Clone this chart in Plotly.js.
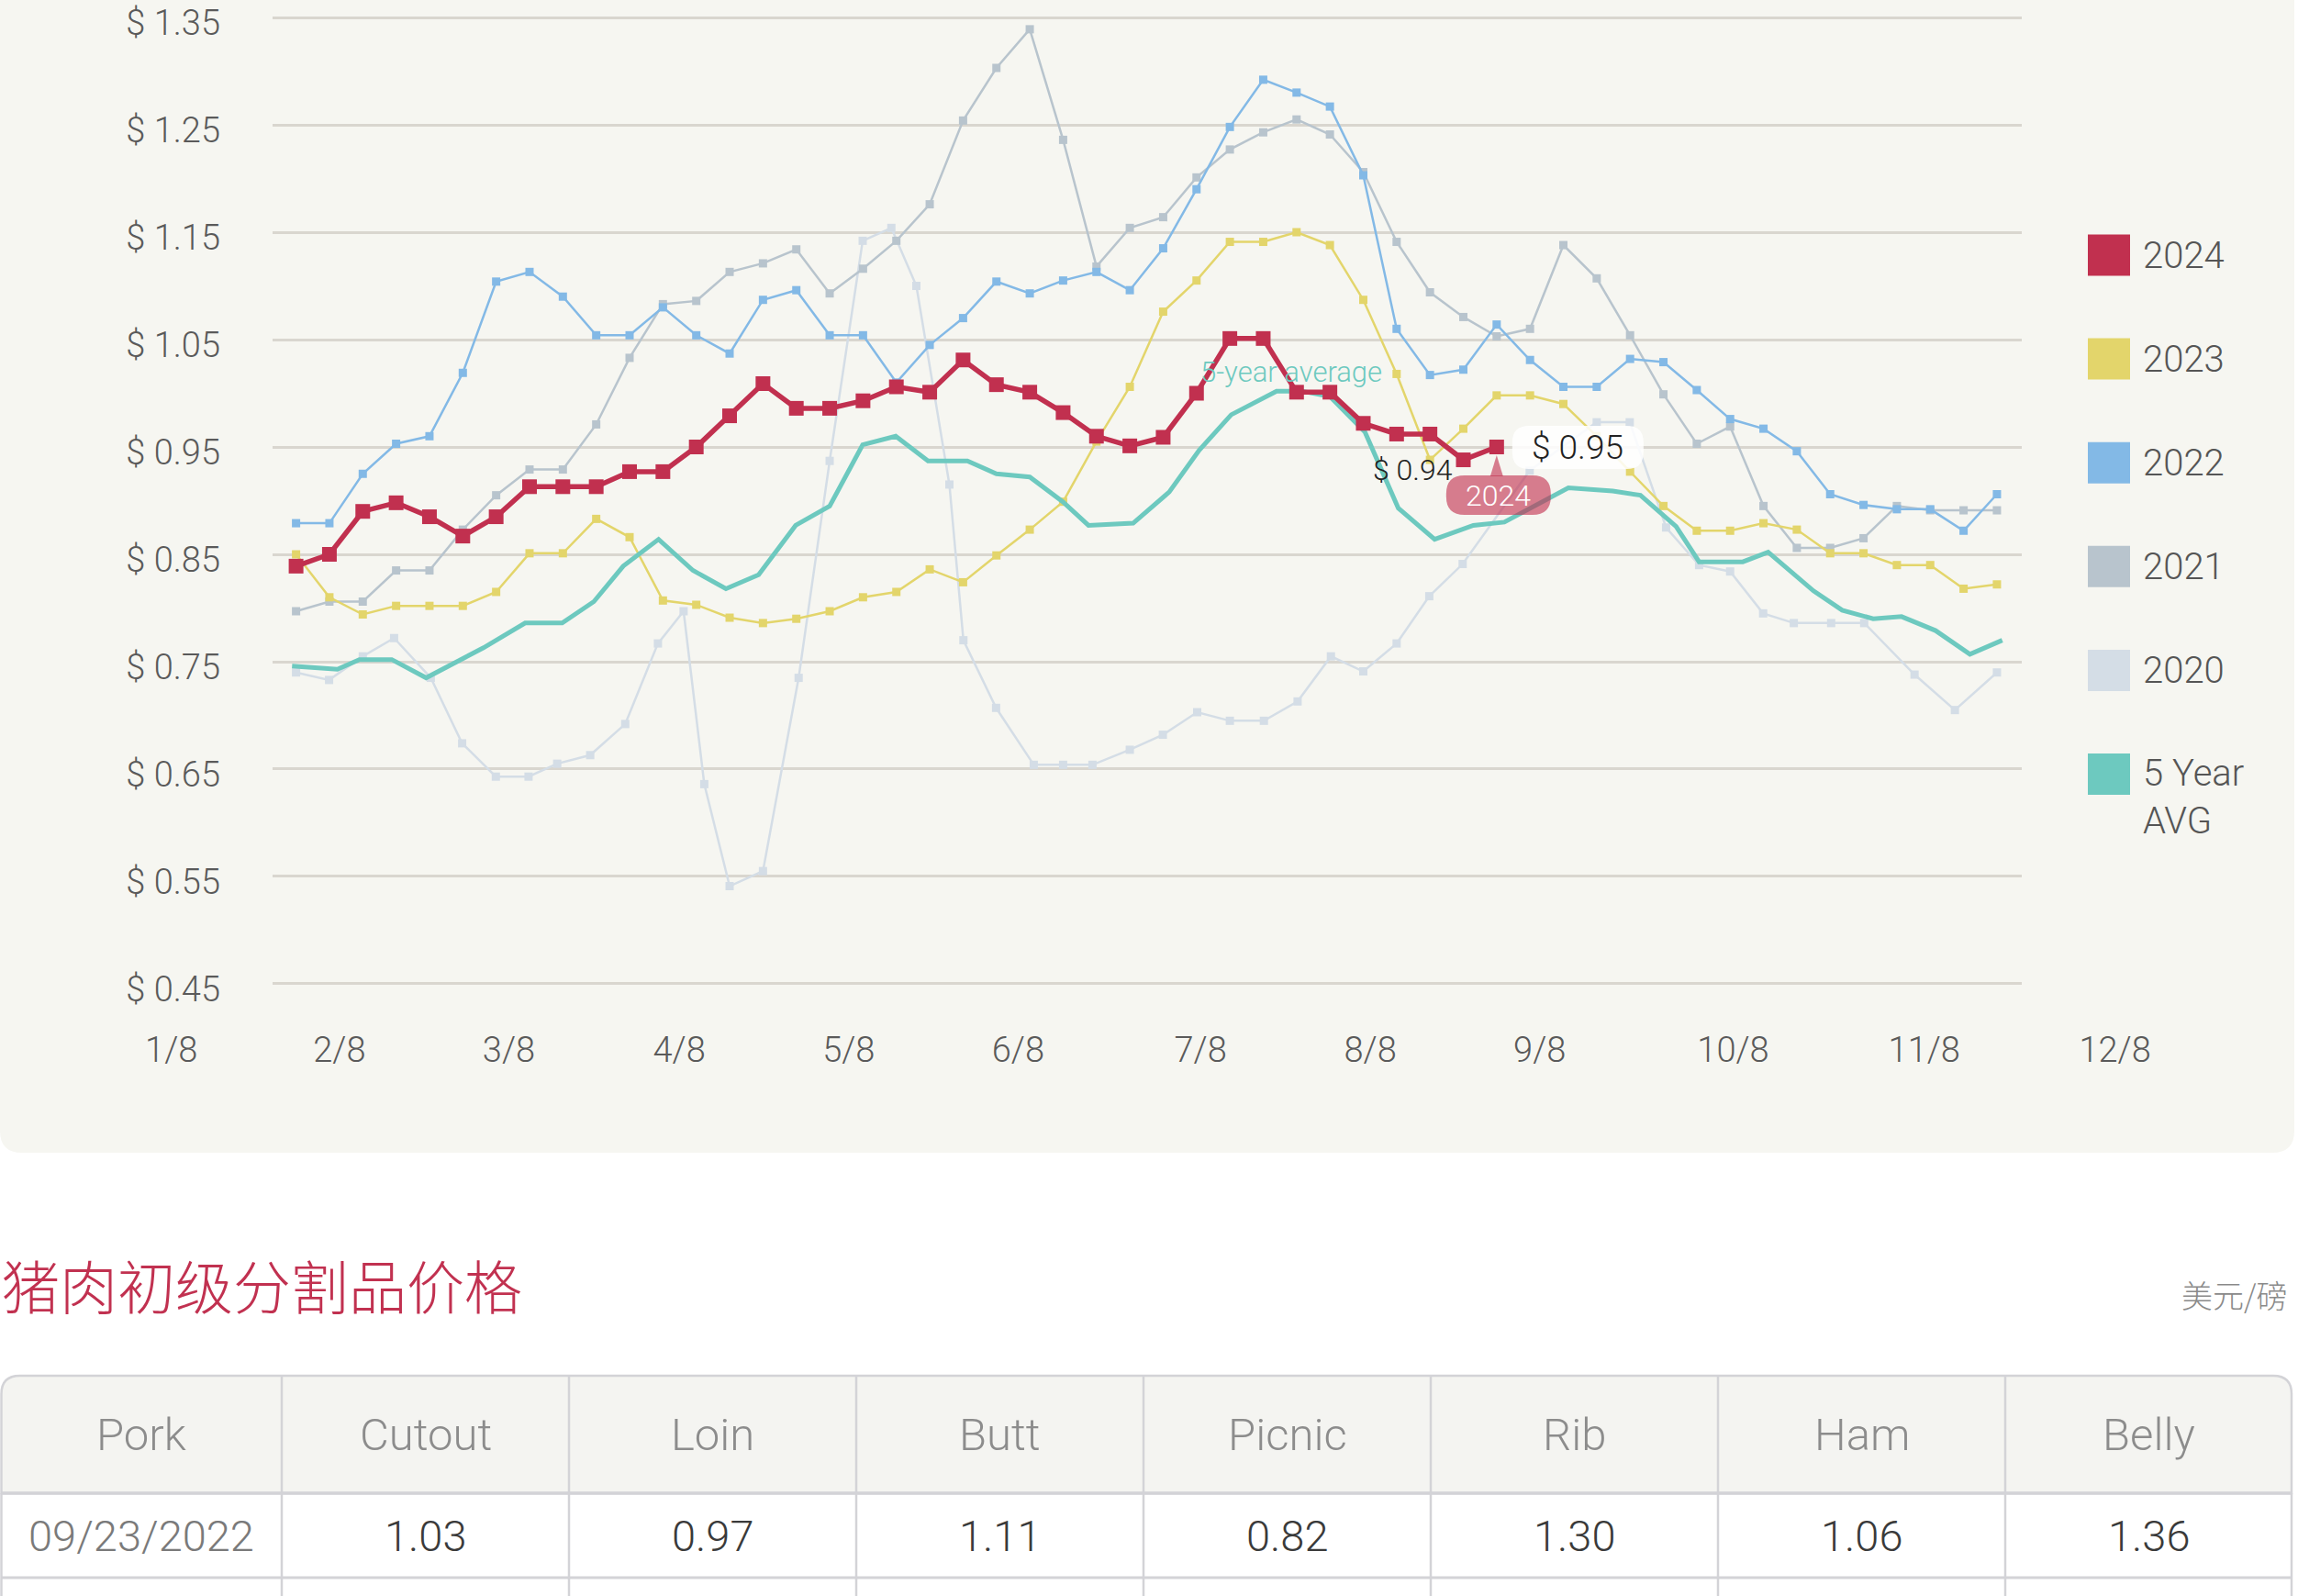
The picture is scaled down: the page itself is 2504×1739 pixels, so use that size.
<!DOCTYPE html>
<html>
<head>
<meta charset="utf-8">
<script src="https://cdn.plot.ly/plotly-3.0.1.min.js"></script>
<style>
html,body{margin:0;padding:0;background:#ffffff;}
#chart{width:2504px;height:1739px;}
</style>
</head>
<body>
<div id="chart"></div>
<script>
// ---------------- DATA ----------------
const weeks = [1,2,3,4,5,6,7,8,9,10,11,12,13,14,15,16,17,18,19,20,21,22,23,24,25,26,
               27,28,29,30,31,32,33,34,35,36,37,38,39,40,41,42,43,44,45,46,47,48,49,50,51,52];

const s2024 = [0.839,0.850,0.890,0.898,0.885,0.867,0.885,0.913,0.913,0.913,0.927,0.927,0.950,0.979,
               1.009,0.986,0.986,0.993,1.006,1.001,1.031,1.008,1.001,0.982,0.960,0.951,0.959,1.000,
               1.051,1.051,1.001,1.001,0.972,0.962,0.962,0.938,0.950];

const s2023 = [0.850,0.810,0.794,0.802,0.802,0.802,0.815,0.851,0.851,0.883,0.866,0.807,0.803,0.791,
               0.786,0.790,0.797,0.810,0.815,0.836,0.824,0.849,0.873,0.899,0.955,1.006,1.076,1.105,
               1.141,1.141,1.150,1.138,1.087,1.018,0.938,0.967,0.998,0.998,0.990,0.960,0.927,0.895,
               0.872,0.872,0.879,0.873,0.851,0.851,0.840,0.840,0.818,0.822];

const s2022 = [0.879,0.879,0.925,0.953,0.960,1.019,1.104,1.113,1.090,1.054,1.054,1.080,1.054,1.037,
               1.087,1.096,1.054,1.054,1.010,1.045,1.070,1.104,1.093,1.105,1.113,1.096,1.135,1.190,
               1.248,1.292,1.280,1.267,1.203,1.060,1.017,1.022,1.064,1.031,1.006,1.006,1.032,1.029,
               1.003,0.976,0.967,0.946,0.906,0.896,0.892,0.892,0.872,0.906];

const s2021 = [0.797,0.806,0.806,0.835,0.835,0.873,0.905,0.929,0.929,0.971,1.033,1.083,1.086,1.113,
               1.121,1.134,1.093,1.116,1.142,1.176,1.254,1.303,1.339,1.236,1.118,1.154,1.164,1.201,
               1.227,1.243,1.255,1.241,1.206,1.141,1.094,1.071,1.053,1.060,1.138,1.107,1.054,0.999,
               0.953,0.969,0.895,0.856,0.856,0.865,0.895,0.891,0.891,0.891];

const x2020 = [1.0,1.99,3.0,3.94,5.04,5.98,6.99,7.97,8.83,9.82,10.87,11.85,12.62,13.24,14.0,15.0,16.07,
               17.0,17.99,18.85,19.6,20.59,21.01,21.99,23.12,24.0,24.88,26.0,26.99,28.02,29.0,30.02,
               31.03,32.03,33.0,34.0,34.98,35.98,37.99,40.0,40.99,42.08,43.07,44.0,44.99,45.91,47.03,
               48.02,49.53,50.74,52.0];
const s2020 = [0.740,0.733,0.755,0.772,0.735,0.674,0.643,0.643,0.655,0.663,0.692,0.767,0.797,0.636,
               0.541,0.555,0.735,0.937,1.142,1.154,1.100,0.915,0.770,0.707,0.654,0.654,0.654,0.668,
               0.682,0.703,0.695,0.695,0.713,0.755,0.741,0.767,0.811,0.841,0.928,0.973,0.973,0.875,
               0.840,0.834,0.795,0.786,0.786,0.786,0.738,0.705,0.740];

const xAvg = [0.88,2.24,2.9,3.87,4.9,6.62,7.87,8.98,9.93,10.81,11.87,12.9,13.89,14.87,15.98,17.0,
              17.99,18.98,19.95,21.13,22.0,23.0,23.99,24.76,26.1,27.18,28.08,29.04,30.4,31.15,32.0,
              33.05,34.05,35.14,36.3,37.23,39.15,40.48,41.31,42.38,43.07,44.38,45.14,46.5,47.36,
              48.29,49.14,50.16,51.19,52.16];
const sAvg = [0.746,0.743,0.752,0.752,0.735,0.763,0.786,0.786,0.806,0.839,0.864,0.835,0.818,0.831,
              0.877,0.895,0.952,0.960,0.937,0.937,0.925,0.922,0.899,0.877,0.879,0.908,0.947,0.980,
              1.002,1.002,0.997,0.964,0.893,0.864,0.877,0.880,0.912,0.909,0.905,0.876,0.843,0.843,
              0.852,0.816,0.798,0.790,0.792,0.779,0.757,0.770];

const seriesNames = ['2024', '2023', '2022', '2021', '2020', '5 Year AVG'];
const seriesColors = ['#c1304f', '#e3d56b', '#83b9e6', '#b8c4cd', '#d4dde6', '#6dc9bf'];

const yTickVals = [0.45, 0.55, 0.65, 0.75, 0.85, 0.95, 1.05, 1.15, 1.25, 1.35];
const yTickText = ['$ 0.45', '$ 0.55', '$ 0.65', '$ 0.75', '$ 0.85', '$ 0.95', '$ 1.05', '$ 1.15', '$ 1.25', '$ 1.35'];
const xTickVals = [-2.74, 2.30, 7.38, 12.49, 17.57, 22.65, 28.12, 33.21, 38.29, 44.09, 49.82, 55.54];
const xTickText = ['1/8', '2/8', '3/8', '4/8', '5/8', '6/8', '7/8', '8/8', '9/8', '10/8', '11/8', '12/8'];

const avgLabel = '5-year average';
const tableTitle = '猪肉初级分割品价格';
const unitLabel = '美元/磅';
const tableHeader = ['Pork', 'Cutout', 'Loin', 'Butt', 'Picnic', 'Rib', 'Ham', 'Belly'];
const tableDates = ['09/23/2022'];
const tableCutout = ['1.03'];
const tableLoin = ['0.97'];
const tableButt = ['1.11'];
const tablePicnic = ['0.82'];
const tableRib = ['1.30'];
const tableHam = ['1.06'];
const tableBelly = ['1.36'];

// ---------------- LAYOUT GEOMETRY ----------------
const W = 2504, H = 1739;
const FONT = 'Roboto, "Liberation Sans", sans-serif';
const CJK = '"Noto Sans CJK SC", sans-serif';
const PX0 = 322.6, PXW = 36.34;           // pixel x of week 1, pixels per week
function wAt(px) { return 1 + (px - PX0) / PXW; }
const YMIN = 0.45, YMAX = 1.35, YPAD = 0.0035;
const Y_TOP = 19, Y_BOT = 1072;
const PPV = (Y_BOT - Y_TOP) / (YMAX - YMIN);
const yTopPx = Y_TOP - YPAD * PPV, yBotPx = Y_BOT + YPAD * PPV;
const yDomain = [1 - yBotPx / H, 1 - yTopPx / H];
function fx(x) { return (x / W).toFixed(5); }
function fy(y) { return (1 - y / H).toFixed(5); }
function P(x, y) { return fx(x) + ',' + fy(y); }
function rr(x0, y0, x1, y1, r) {
  return 'M' + (x0 + r) + ',' + y0 + ' L' + (x1 - r) + ',' + y0 + ' Q' + x1 + ',' + y0 + ' ' + x1 + ',' + (y0 + r) +
         ' L' + x1 + ',' + (y1 - r) + ' Q' + x1 + ',' + y1 + ' ' + (x1 - r) + ',' + y1 +
         ' L' + (x0 + r) + ',' + y1 + ' Q' + x0 + ',' + y1 + ' ' + x0 + ',' + (y1 - r) +
         ' L' + x0 + ',' + (y0 + r) + ' Q' + x0 + ',' + y0 + ' ' + (x0 + r) + ',' + y0 + ' Z';
}

// ---------------- TRACES ----------------
function lineTrace(name, x, y, color, lw, ms) {
  const t = {type: 'scatter', mode: ms ? 'lines+markers' : 'lines', name: name, x: x, y: y,
             line: {color: color, width: lw}, hoverinfo: 'skip', showlegend: false};
  if (ms) t.marker = {symbol: 'square', size: ms, color: color, line: {width: 0}};
  return t;
}
const traces = [
  lineTrace(seriesNames[4], x2020, s2020, seriesColors[4], 2.5, 9),
  lineTrace(seriesNames[3], weeks, s2021, seriesColors[3], 2.5, 9),
  lineTrace(seriesNames[2], weeks, s2022, seriesColors[2], 2.5, 9),
  lineTrace(seriesNames[1], weeks, s2023, seriesColors[1], 2.5, 9),
  lineTrace(seriesNames[5], xAvg, sAvg, seriesColors[5], 5, 0),
  lineTrace(seriesNames[0], weeks.slice(0, s2024.length), s2024, seriesColors[0], 5.5, 16),
  {type: 'scatter', x: [], y: [], xaxis: 'x2', yaxis: 'y2', hoverinfo: 'skip', showlegend: false}
];

// ---------------- SHAPES & ANNOTATIONS ----------------
const panelPath = 'M' + P(0, -20) + ' L' + P(2500, -20) + ' L' + P(2500, 1232) + ' Q' + P(2500, 1256) + ' ' + P(2476, 1256) +
                  ' L' + P(24, 1256) + ' Q' + P(0, 1256) + ' ' + P(0, 1232) + ' Z';
const shapes = [
  {type: 'path', xref: 'paper', yref: 'paper', path: panelPath, fillcolor: '#f6f6f1', line: {width: 0}, layer: 'below'}
];
const annotations = [];

// 5-year average label, placed near the average's peak
const iMax = sAvg.indexOf(Math.max.apply(null, sAvg));
annotations.push({xref: 'x', yref: 'y', x: xAvg[iMax], y: sAvg[iMax], text: avgLabel, showarrow: false,
  xshift: 16, yshift: 21, font: {family: FONT, size: 31, color: seriesColors[5], weight: 300}});

// hover-style callouts on last 2024 points
const iL = s2024.length - 1, iP = iL - 1;
shapes.push({type: 'path', xref: 'x', yref: 'y', xsizemode: 'pixel', ysizemode: 'pixel',
  xanchor: weeks[iL], yanchor: s2024[iL], path: rr(17, -24, 160, 23, 18),
  fillcolor: 'rgba(255,255,255,0.85)', line: {width: 0}, layer: 'above'});
shapes.push({type: 'path', xref: 'x', yref: 'y', xsizemode: 'pixel', ysizemode: 'pixel',
  xanchor: weeks[iL], yanchor: s2024[iL], path: rr(-55, -74, 59, -31, 20),
  fillcolor: 'rgba(193,48,79,0.62)', line: {width: 0}, layer: 'above'});
shapes.push({type: 'path', xref: 'x', yref: 'y', xsizemode: 'pixel', ysizemode: 'pixel',
  xanchor: weeks[iL], yanchor: s2024[iL], path: 'M-7,-32 L7,-32 L0,-9 Z',
  fillcolor: 'rgba(193,48,79,0.62)', line: {width: 0}, layer: 'above'});
annotations.push({xref: 'x', yref: 'y', x: weeks[iL], y: s2024[iL], text: '$ ' + s2024[iL].toFixed(2),
  showarrow: false, xshift: 88, yshift: 0, font: {family: FONT, size: 37, color: '#222222', weight: 300}});
annotations.push({xref: 'x', yref: 'y', x: weeks[iL], y: s2024[iL], text: seriesNames[0],
  showarrow: false, xshift: 2, yshift: -52.5, font: {family: FONT, size: 32, color: '#ffffff', weight: 300}});
annotations.push({xref: 'x', yref: 'y', x: weeks[iP], y: s2024[iP], text: '$ ' + s2024[iP].toFixed(2),
  showarrow: false, xshift: -55, yshift: -11, font: {family: FONT, size: 32, color: '#222222', weight: 300}});

// custom legend (large square swatches)
seriesNames.forEach(function (nm, i) {
  const cy = 278 + i * 113.1;
  shapes.push({type: 'rect', xref: 'paper', yref: 'paper',
    x0: 2275 / W, x1: 2321 / W, y0: 1 - (cy + 22.5) / H, y1: 1 - (cy - 22.5) / H,
    fillcolor: seriesColors[i], line: {width: 0}, layer: 'above'});
  const txt = nm.replace(' AVG', '<br>AVG');
  const two = txt.indexOf('<br>') >= 0;
  annotations.push({xref: 'paper', yref: 'paper', x: 2333 / W, y: 1 - (cy + (two ? 25 : 0)) / H,
    xanchor: 'left', yanchor: 'middle', align: 'left', text: txt, showarrow: false,
    font: {family: FONT, size: 40, color: '#555555', weight: 300}});
});

// section title and unit
annotations.push({xref: 'paper', yref: 'paper', x: 0, y: 1 - 1398 / H, xanchor: 'left', yanchor: 'middle',
  text: tableTitle, showarrow: false, font: {family: CJK, size: 63, color: '#c13150', weight: 300}});
annotations.push({xref: 'paper', yref: 'paper', x: 2494 / W, y: 1 - 1410 / H, xanchor: 'right', yanchor: 'middle',
  text: unitLabel, showarrow: false, font: {family: CJK, size: 34, color: '#8a8a8a', weight: 300}});

// ---------------- PRICE TABLE ----------------
const colEdges = [0, 307, 620, 933, 1246, 1559, 1872, 2185, 2497];
const T_TOP = 1499, T_HEAD = 1627, T_ROW = 1719, T_END = 1760, TR = 20;
const tableRows = [[tableDates[0], tableCutout[0], tableLoin[0], tableButt[0], tablePicnic[0], tableRib[0], tableHam[0], tableBelly[0]]];
const LINEC = '#d3d3d7';
const xL = 1.5, xR = colEdges[colEdges.length - 1];
shapes.push({type: 'path', xref: 'paper', yref: 'paper', layer: 'above',
  path: 'M' + P(xL, T_HEAD) + ' L' + P(xL, T_TOP + TR) + ' Q' + P(xL, T_TOP) + ' ' + P(xL + TR, T_TOP) +
        ' L' + P(xR - TR, T_TOP) + ' Q' + P(xR, T_TOP) + ' ' + P(xR, T_TOP + TR) + ' L' + P(xR, T_HEAD) + ' Z',
  fillcolor: '#f4f4f1', line: {color: LINEC, width: 2.5}});
shapes.push({type: 'path', xref: 'paper', yref: 'paper', layer: 'above',
  path: 'M' + P(xL, T_HEAD) + ' L' + P(xL, T_END) + ' M' + P(xR, T_HEAD) + ' L' + P(xR, T_END),
  line: {color: LINEC, width: 2.5}});
[T_HEAD, T_ROW].forEach(function (yy, k) {
  shapes.push({type: 'line', xref: 'paper', yref: 'paper', x0: xL / W, x1: xR / W, y0: 1 - yy / H, y1: 1 - yy / H,
    line: {color: LINEC, width: k === 0 ? 3.5 : 3}, layer: 'above'});
});
colEdges.slice(1, -1).forEach(function (cx) {
  shapes.push({type: 'line', xref: 'paper', yref: 'paper', x0: cx / W, x1: cx / W, y0: 1 - T_TOP / H, y1: 1 - T_END / H,
    line: {color: LINEC, width: 2.5}, layer: 'above'});
});
tableHeader.forEach(function (h, j) {
  const cx = (colEdges[j] + colEdges[j + 1]) / 2;
  annotations.push({xref: 'paper', yref: 'paper', x: cx / W, y: 1 - ((T_TOP + T_HEAD) / 2) / H,
    xanchor: 'center', yanchor: 'middle', text: h, showarrow: false,
    font: {family: FONT, size: 49, color: '#8c8c8c', weight: 300}});
});
tableRows.forEach(function (row, r) {
  const yc = T_HEAD + (r + 0.5) * (T_ROW - T_HEAD);
  row.forEach(function (v, j) {
    const cx = (colEdges[j] + colEdges[j + 1]) / 2;
    annotations.push({xref: 'paper', yref: 'paper', x: cx / W, y: 1 - yc / H,
      xanchor: 'center', yanchor: 'middle', text: v, showarrow: false,
      font: {family: FONT, size: 47, color: j === 0 ? '#7a7a7a' : '#3a3a3a', weight: 300}});
  });
});

const layout = {
  width: W, height: H,
  margin: {l: 0, r: 0, t: 0, b: 0, pad: 0},
  paper_bgcolor: '#ffffff', plot_bgcolor: 'rgba(0,0,0,0)',
  showlegend: false, hovermode: false,
  font: {family: FONT},
  xaxis: {domain: [297 / W, 2203 / W], range: [wAt(297), wAt(2203)], anchor: 'y',
          showgrid: false, zeroline: false, showline: false, showticklabels: false, ticks: '', fixedrange: true},
  yaxis: {domain: yDomain, range: [YMIN - YPAD, YMAX + YPAD], anchor: 'x',
          tickmode: 'array', tickvals: yTickVals, ticktext: yTickText,
          showgrid: true, gridcolor: '#d9d6cf', gridwidth: 3, zeroline: false, showline: false, ticks: '',
          ticklabelstandoff: 56, ticklabelshift: 6, ticklabeloverflow: 'allow', automargin: false,
          tickfont: {family: FONT, size: 38, color: '#5a5a5a', weight: 300}},
  xaxis2: {domain: [120 / W, 2380 / W], range: [wAt(120), wAt(2380)], anchor: 'y2',
           tickmode: 'array', tickvals: xTickVals, ticktext: xTickText,
           showgrid: false, zeroline: false, showline: false, ticks: '', ticklabelstandoff: 42,
           ticklabeloverflow: 'allow', automargin: false,
           tickfont: {family: FONT, size: 38, color: '#5a5a5a', weight: 300}},
  yaxis2: {domain: yDomain, range: [0, 1], anchor: 'x2', visible: false},
  shapes: shapes,
  annotations: annotations
};

Plotly.newPlot('chart', traces, layout, {displayModeBar: false, responsive: false});
</script>
</body>
</html>
